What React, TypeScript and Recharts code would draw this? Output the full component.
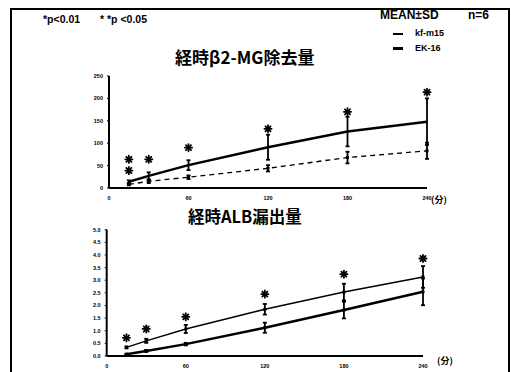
import {
  ComposedChart,
  Line,
  Scatter,
  XAxis,
  YAxis,
  ErrorBar,
} from 'recharts';

// sampling times (min)
const minutes = [15, 30, 60, 120, 180, 240];
const xTicks = [0, 60, 120, 180, 240];

// β2-MG removal
const b2mEK = [14, 27, 51, 91, 126, 148];
const b2mEKsd = [3, 8, 11, 28, 33, 52];
const b2mKF = [8, 15, 24, 44, 68, 83];
const b2mKFsd = [2, 4, 4, 7, 13, 18];
const b2mStars = [64, 64, 90, 132, 170, 214];
const b2mExtraStar = [{ t: 15, s: 39 }];
const b2mTicks = [0, 50, 100, 150, 200, 250];

// ALB leakage
const albKF = [0.34, 0.6, 1.07, 1.85, 2.53, 3.13];
const albKFsd = [0.04, 0.08, 0.16, 0.21, 0.33, 0.43];
const albEK = [0.07, 0.2, 0.47, 1.12, 1.82, 2.54];
const albEKsd = [0.02, 0.04, 0.05, 0.2, 0.33, 0.53];
const albStars = [0.72, 1.07, 1.55, 2.45, 3.24, 3.86];
const albTicks = [0, 0.5, 1, 1.5, 2, 2.5, 3, 3.5, 4, 4.5, 5];

const b2mData = minutes.map((t, i) => ({
  t,
  ek: b2mEK[i],
  ekErr: b2mEKsd[i],
  kf: b2mKF[i],
  kfErr: b2mKFsd[i],
}));
const b2mStarData = minutes.map((t, i) => ({ t, s: b2mStars[i] })).concat(b2mExtraStar);

const albData = minutes.map((t, i) => ({
  t,
  ek: albEK[i],
  ekErr: albEKsd[i],
  kf: albKF[i],
  kfErr: albKFsd[i],
}));
const albStarData = minutes.map((t, i) => ({ t, s: albStars[i] }));

const bold = { fontFamily: '"Liberation Sans", Arial, sans-serif', fontWeight: 700 };
const cjk = { fontFamily: '"Noto Sans CJK JP", sans-serif', fontWeight: 700 };
const tickStyle = { fontSize: 5.5, fontWeight: 700, fill: '#000', fontFamily: '"Liberation Sans", sans-serif' };

// heavy asterisk used to flag significance
const Star = (props: any) => {
  const { cx, cy } = props;
  if (cx == null || cy == null) return null;
  const r = 3.6;
  const d = r * 0.7071;
  return (
    <g stroke="#000" strokeWidth={1.8} strokeLinecap="round">
      <line x1={cx - r} y1={cy} x2={cx + r} y2={cy} />
      <line x1={cx} y1={cy - r} x2={cx} y2={cy + r} />
      <line x1={cx - d} y1={cy - d} x2={cx + d} y2={cy + d} />
      <line x1={cx - d} y1={cy + d} x2={cx + d} y2={cy - d} />
    </g>
  );
};

const SmallDot = (props: any) => {
  const { cx, cy } = props;
  if (cx == null || cy == null) return null;
  return <rect x={cx - 1.5} y={cy - 1.5} width={3} height={3} fill="#000" />;
};

const abs = (left: number, top: number, extra: any = {}) => ({
  position: 'absolute' as const,
  left,
  top,
  lineHeight: 1,
  whiteSpace: 'nowrap' as const,
  ...extra,
});

export default function App() {
  return (
    <div style={{ position: 'absolute', left: 0, top: 0, width: 511, height: 372, background: '#fff', overflow: 'hidden' }}>
      {/* frame */}
      <div style={{ position: 'absolute', left: 10, top: 8, width: 496, height: 400, border: '2px solid #000' }} />

      <div style={abs(43, 14, { ...bold, fontSize: 10.5 })}>*p&lt;0.01</div>
      <div style={abs(100, 14, { ...bold, fontSize: 10.5 })}>* *p &lt;0.05</div>
      <div style={abs(380, 9, { ...bold, fontSize: 12 })}>MEAN±SD</div>
      <div style={abs(468, 9, { ...bold, fontSize: 12 })}>n=6</div>
      <div style={{ position: 'absolute', left: 393, top: 33, width: 10, height: 1.5, background: '#000' }} />
      <div style={abs(415, 29, { ...bold, fontSize: 9 })}>kf-m15</div>
      <div style={{ position: 'absolute', left: 393, top: 47, width: 10, height: 2.5, background: '#000' }} />
      <div style={abs(415, 44, { ...bold, fontSize: 9 })}>EK-16</div>

      <div style={abs(175, 48, { ...cjk, fontSize: 17 })}>経時β2-MG除去量</div>
      <div style={abs(188, 208, { ...cjk, fontSize: 16.5 })}>経時ALB漏出量</div>
      <div style={abs(431, 195, { ...cjk, fontSize: 9 })}>(分)</div>
      <div style={abs(437, 356, { ...cjk, fontSize: 9 })}>(分)</div>

      <div style={{ position: 'absolute', left: 0, top: 60 }}>
        <ComposedChart width={511} height={150} data={b2mData} margin={{ top: 16, right: 84, bottom: 8, left: 0 }}>
          <XAxis
            dataKey="t"
            type="number"
            domain={[0, 240]}
            ticks={xTicks}
            tick={tickStyle}
            tickLine={false}
            tickMargin={2}
            height={14}
            axisLine={{ stroke: '#000', strokeWidth: 2 }}
          />
          <YAxis
            type="number"
            domain={[0, 250]}
            ticks={b2mTicks}
            tick={tickStyle}
            width={109}
            tickSize={2}
            tickMargin={4}
            tickLine={{ stroke: '#000' }}
            axisLine={{ stroke: '#000', strokeWidth: 2 }}
          />
          <Line dataKey="ek" stroke="#000" strokeWidth={2.5} dot={false} isAnimationActive={false}>
            <ErrorBar dataKey="ekErr" width={2} stroke="#000" strokeWidth={1.8} isAnimationActive={false} />
          </Line>
          <Line dataKey="kf" stroke="#000" strokeWidth={1.4} strokeDasharray="5 4" dot={<SmallDot />} isAnimationActive={false}>
            <ErrorBar dataKey="kfErr" width={2} stroke="#000" strokeWidth={1.8} isAnimationActive={false} />
          </Line>
          <Scatter data={b2mStarData} dataKey="s" shape={<Star />} isAnimationActive={false} />
        </ComposedChart>
      </div>

      <div style={{ position: 'absolute', left: 0, top: 220 }}>
        <ComposedChart width={511} height={152} data={albData} margin={{ top: 9.7, right: 88, bottom: 2, left: 0 }}>
          <XAxis
            dataKey="t"
            type="number"
            domain={[0, 240]}
            ticks={xTicks}
            tick={tickStyle}
            tickLine={false}
            tickMargin={2}
            height={14}
            axisLine={{ stroke: '#000', strokeWidth: 2 }}
          />
          <YAxis
            type="number"
            domain={[0, 5]}
            ticks={albTicks}
            tick={tickStyle}
            tickFormatter={(v: number) => v.toFixed(1)}
            width={106.7}
            tickSize={2}
            tickMargin={4}
            tickLine={{ stroke: '#000' }}
            axisLine={{ stroke: '#000', strokeWidth: 2 }}
          />
          <Line dataKey="kf" stroke="#000" strokeWidth={1.5} dot={<SmallDot />} isAnimationActive={false}>
            <ErrorBar dataKey="kfErr" width={2} stroke="#000" strokeWidth={1.8} isAnimationActive={false} />
          </Line>
          <Line dataKey="ek" stroke="#000" strokeWidth={2.5} dot={<SmallDot />} isAnimationActive={false}>
            <ErrorBar dataKey="ekErr" width={2} stroke="#000" strokeWidth={1.8} isAnimationActive={false} />
          </Line>
          <Scatter data={albStarData} dataKey="s" shape={<Star />} isAnimationActive={false} />
        </ComposedChart>
      </div>
    </div>
  );
}
